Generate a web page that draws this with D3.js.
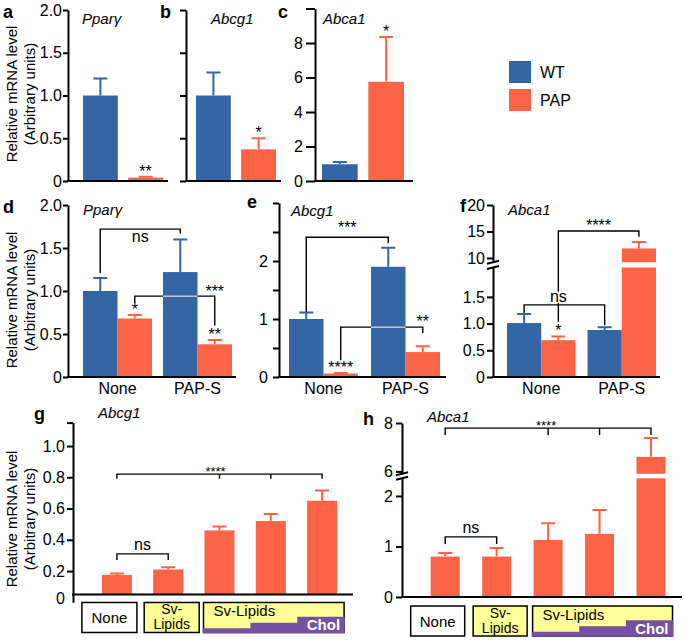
<!DOCTYPE html>
<html><head><meta charset="utf-8">
<script src="https://cdn.jsdelivr.net/npm/d3@7"></script>
<style>body{margin:0;background:#fff}svg{display:block}</style>
</head><body>
<script>
// ---------------- DATA ----------------
const genotypes = ["WT", "PAP"];
const pparA = [1.00, 0.04];
const pparAErr = [0.20, 0.01];
const abcg1B = [1.00, 0.37];
const abcg1BErr = [0.27, 0.13];
const abca1C = [0.97, 5.75];
const abca1CErr = [0.13, 2.60];

const conditions = ["None", "PAP-S"];
const pparD_WT = [1.00, 1.22];
const pparD_WTErr = [0.15, 0.38];
const pparD_PAP = [0.68, 0.38];
const pparD_PAPErr = [0.04, 0.05];
const abcg1E_WT = [1.00, 1.90];
const abcg1E_WTErr = [0.11, 0.33];
const abcg1E_PAP = [0.06, 0.43];
const abcg1E_PAPErr = [0.01, 0.10];
const abca1F_WT = [1.01, 0.88];
const abca1F_WTErr = [0.17, 0.05];
const abca1F_PAP = [0.69, 11.8];
const abca1F_PAPErr = [0.07, 1.2];

const treatments = ["None", "Sv-Lipids", "Sv-Lipids+Chol 1", "Sv-Lipids+Chol 2", "Sv-Lipids+Chol 3"];
const abcg1G = [0.175, 0.21, 0.46, 0.52, 0.65];
const abcg1GErr = [0.01, 0.015, 0.025, 0.045, 0.065];
const abca1H = [0.80, 0.80, 1.13, 1.25, 6.60];
const abca1HErr = [0.07, 0.17, 0.33, 0.47, 0.78];

const ticks2 = [0, 0.5, 1, 1.5, 2];
const ticks2Labels = ["0", "0.5", "1.0", "1.5", "2.0"];
const ticksC = [0, 2, 4, 6, 8, 10];
const ticksCLabels = ["0", "2", "4", "6", "8", ""];
const ticksE = [0, 0.5, 1, 1.5, 2, 2.5, 3];
const ticksELabels = ["0", "", "1", "", "2", "", ""];
const ticksFHi = [10, 15, 20];
const ticksFHiLabels = ["10", "15", "20"];
const ticksFLo = [0, 0.5, 1, 1.5];
const ticksFLoLabels = ["0", "0.5", "1.0", "1.5"];
const ticksG = [0.2, 0.4, 0.6, 0.8, 1.0, 1.15];
const ticksGLabels = ["0.2", "0.4", "0.6", "0.8", "1.0", ""];
const ticksHHi = [6, 8];
const ticksHHiLabels = ["6", "8"];
const ticksHLo = [0, 1, 2];
const ticksHLoLabels = ["0", "1", "2"];

// ---------------- STYLE ----------------
const FONT = "'Liberation Sans', Arial, Helvetica, sans-serif";
const BLUE = "#3465A4", RED = "#FD6446", YELLOW = "#FFFF99", PURPLE = "#7650A2";
const color = d3.scaleOrdinal().domain(genotypes).range([BLUE, RED]);

const svg = d3.select("body").append("svg").attr("width", 685).attr("height", 640)
  .style("font-family", FONT);
const defs = svg.append("defs");

function panel(id) {
  const g = svg.append("g");
  return { id, clip: defs.append("clipPath").attr("id", id),
    bars: g.append("g"), errs: g.append("g"), ann: g.append("g") };
}
function addRect(p, x, y0, y1, w, fill) {
  const y = Math.min(y0, y1), h = Math.abs(y1 - y0);
  p.bars.append("rect").attr("x", x).attr("y", y).attr("width", w).attr("height", h).attr("fill", fill);
  p.clip.append("rect").attr("x", x).attr("y", y).attr("width", w).attr("height", h);
}
function series(p, xOf, bw, values, errs, fillOf, lo, hi, base) {
  values.forEach((v, i) => {
    const x = xOf(i), cx = x + bw / 2, fill = fillOf(i);
    const loMax = lo.domain()[1];
    let yTop;
    if (hi && v > loMax) {
      addRect(p, x, base, lo(loMax), bw, fill);
      addRect(p, x, hi(hi.domain()[0]), hi(v), bw, fill);
      yTop = hi(v);
    } else {
      addRect(p, x, base, lo(v), bw, fill);
      yTop = lo(v);
    }
    const t = v + errs[i];
    const yCap = (hi && t > loMax) ? hi(t) : lo(t);
    p.errs.append("path").attr("d", `M${cx},${yTop}V${yCap}M${cx - 7},${yCap}H${cx + 7}`)
      .attr("stroke", fill).attr("stroke-width", 2).attr("fill", "none");
  });
}
function yAxis(x, scale, ticks, labels, tickLen = 6, pad = 3) {
  const a = svg.append("g").attr("transform", `translate(${x},0)`)
    .call(d3.axisLeft(scale).tickValues(ticks).tickFormat((d, i) => labels[i])
      .tickSize(tickLen).tickSizeOuter(0).tickPadding(pad));
  a.attr("font-family", null).attr("font-size", null);
  a.select(".domain").attr("stroke", "#000").attr("stroke-width", 2);
  a.selectAll(".tick line").attr("stroke", "#000").attr("stroke-width", 2);
  a.selectAll(".tick text").attr("fill", "#000").attr("font-size", 16);
  return a;
}
function xLine(x0, x1, y) {
  svg.append("line").attr("x1", x0).attr("x2", x1).attr("y1", y).attr("y2", y)
    .attr("stroke", "#000").attr("stroke-width", 2);
}
function breakMark(x, y) {
  svg.append("line").attr("x1", x - 6).attr("x2", x + 6).attr("y1", y + 1.5).attr("y2", y - 1.5)
    .attr("stroke", "#000").attr("stroke-width", 2);
}
function bracketPath(p, d) {
  p.ann.append("path").attr("d", d).attr("stroke", "#000").attr("stroke-width", 1.4).attr("fill", "none");
  p.ann.append("path").attr("d", d).attr("stroke", "#fff").attr("stroke-width", 1.4).attr("fill", "none")
    .attr("clip-path", `url(#${p.id})`);
}
function bracket(p, x1, x2, yLine, yEnd1, yEnd2) {
  bracketPath(p, `M${x1},${yEnd1}V${yLine}H${x2}V${yEnd2}`);
}
function label(g, x, y, s, o = {}) {
  const t = g.append("text").attr("x", x).attr("y", y).text(s)
    .attr("font-size", o.size || 16).attr("text-anchor", o.anchor || "middle").attr("fill", o.fill || "#000");
  if (o.italic) t.attr("font-style", "italic");
  if (o.bold) t.attr("font-weight", "bold");
  return t;
}
function yTitle(cx, cy) {
  const g = svg.append("g").attr("transform", `translate(${cx},${cy}) rotate(-90)`);
  label(g, 0, 0, "Relative mRNA level", { size: 15 });
  label(g, 0, 18, "(Arbitrary units)", { size: 15 });
}

// ---------------- PANEL a ----------------
const pA = panel("clipA");
const xA = d3.scaleBand().domain(genotypes).range([83, 163]).paddingInner(0.23);
const yA = d3.scaleLinear().domain([0, 2]).range([181, 10]);
series(pA, i => xA(genotypes[i]), xA.bandwidth(), pparA, pparAErr, i => color(genotypes[i]), yA, null, yA(0));
yAxis(68, yA, ticks2, ticks2Labels, 5, 1);
xLine(67, 168, yA(0));
label(pA.ann, xA("PAP") + xA.bandwidth() / 2, yA(pparA[1] + pparAErr[1]), "**");
label(svg, 3, 18, "a", { anchor: "start", bold: true, size: 18 });
label(svg, 82, 24, "Pparγ", { anchor: "start", italic: true, size: 15 });
yTitle(17, 94);

// ---------------- PANEL b ----------------
const pB = panel("clipB");
const xB = d3.scaleBand().domain(genotypes).range([196, 276]).paddingInner(0.23);
const yB = d3.scaleLinear().domain([0, 2]).range([181, 10]);
series(pB, i => xB(genotypes[i]), xB.bandwidth(), abcg1B, abcg1BErr, i => color(genotypes[i]), yB, null, yB(0));
yAxis(186, yB, ticks2, ticks2.map(() => ""));
xLine(185, 281, yB(0));
label(pB.ann, xB("PAP") + xB.bandwidth() / 2, yB(abcg1B[1] + abcg1BErr[1]), "*");
label(svg, 160, 18, "b", { anchor: "start", bold: true, size: 18 });
label(svg, 211, 24, "Abcg1", { anchor: "start", italic: true, size: 15 });

// ---------------- PANEL c ----------------
const pC = panel("clipC");
const xC = d3.scaleBand().domain(genotypes).range([322, 404]).paddingInner(0.23);
const yC = d3.scaleLinear().domain([0, 10]).range([181, 8.5]);
series(pC, i => xC(genotypes[i]), xC.bandwidth(), abca1C, abca1CErr, i => color(genotypes[i]), yC, null, yC(0));
yAxis(315, yC, ticksC, ticksCLabels, 9, 3);
xLine(314, 413, yC(0));
label(pC.ann, xC("PAP") + xC.bandwidth() / 2, yC(abca1C[1] + abca1CErr[1]), "*");
label(svg, 278, 18, "c", { anchor: "start", bold: true, size: 18 });
label(svg, 323, 24, "Abca1", { anchor: "start", italic: true, size: 15 });

// ---------------- LEGEND ----------------
genotypes.forEach((gt, i) => {
  svg.append("rect").attr("x", 509).attr("y", 61 + i * 28).attr("width", 22).attr("height", 22).attr("fill", color(gt));
  label(svg, 540, 78 + i * 28, gt, { anchor: "start", size: 16 });
});

// ---------------- PANEL d ----------------
const pD = panel("clipD");
const xD = d3.scaleBand().domain(conditions).range([83, 232]).paddingInner(0.1375);
const xDi = d3.scaleBand().domain(genotypes).range([0, xD.bandwidth()]);
const yD = d3.scaleLinear().domain([0, 2]).range([377, 205]);
series(pD, i => xD(conditions[i]) + xDi("WT"), xDi.bandwidth(), pparD_WT, pparD_WTErr, () => BLUE, yD, null, yD(0));
series(pD, i => xD(conditions[i]) + xDi("PAP"), xDi.bandwidth(), pparD_PAP, pparD_PAPErr, () => RED, yD, null, yD(0));
yAxis(68, yD, ticks2, ticks2Labels, 5, 1);
xLine(67, 236, yD(0));
const cD = (c, gt) => xD(c) + xDi(gt) + xDi.bandwidth() / 2;
bracket(pD, cD("None", "WT"), cD("PAP-S", "WT"), yD(1.72), yD(1.21), yD(1.67));
label(pD.ann, (cD("None", "WT") + cD("PAP-S", "WT")) / 2, yD(1.57), "ns");
bracket(pD, cD("None", "PAP"), cD("PAP-S", "PAP"), yD(0.94), yD(0.86), yD(0.60));
label(pD.ann, cD("PAP-S", "PAP"), yD(0.935), "***");
label(pD.ann, cD("None", "PAP"), yD(pparD_PAP[0] + pparD_PAPErr[0]), "*");
label(pD.ann, cD("PAP-S", "PAP"), yD(pparD_PAP[1] + pparD_PAPErr[1]), "**");
conditions.forEach(c => label(svg, xD(c) + xD.bandwidth() / 2, 394, c, { size: 16 }));
label(svg, 3, 213, "d", { anchor: "start", bold: true, size: 18 });
label(svg, 83, 215, "Pparγ", { anchor: "start", italic: true, size: 15 });
yTitle(17, 300);

// ---------------- PANEL e ----------------
const pE = panel("clipE");
const xE = d3.scaleBand().domain(conditions).range([289, 440]).paddingInner(0.159);
const xEi = d3.scaleBand().domain(genotypes).range([0, xE.bandwidth()]);
const yE = d3.scaleLinear().domain([0, 3]).range([377, 203]);
series(pE, i => xE(conditions[i]) + xEi("WT"), xEi.bandwidth(), abcg1E_WT, abcg1E_WTErr, () => BLUE, yE, null, yE(0));
series(pE, i => xE(conditions[i]) + xEi("PAP"), xEi.bandwidth(), abcg1E_PAP, abcg1E_PAPErr, () => RED, yE, null, yE(0));
yAxis(279, yE, ticksE, ticksELabels, 6, 5);
xLine(278, 446, yE(0));
const cE = (c, gt) => xE(c) + xEi(gt) + xEi.bandwidth() / 2;
bracket(pE, cE("None", "WT"), cE("PAP-S", "WT"), yE(2.41), yE(1.12), yE(2.31));
label(pE.ann, (cE("None", "WT") + cE("PAP-S", "WT")) / 2, yE(2.48), "***");
bracket(pE, cE("None", "PAP"), cE("PAP-S", "PAP"), yE(0.86), yE(0.29), yE(0.76));
label(pE.ann, cE("PAP-S", "PAP"), yE(0.86), "**");
label(pE.ann, cE("None", "PAP"), yE(abcg1E_PAP[0] + abcg1E_PAPErr[0]), "****");
conditions.forEach(c => label(svg, xE(c) + xE.bandwidth() / 2, 394, c, { size: 16 }));
label(svg, 247, 208, "e", { anchor: "start", bold: true, size: 18 });
label(svg, 291, 216, "Abcg1", { anchor: "start", italic: true, size: 15 });

// ---------------- PANEL f ----------------
const pF = panel("clipF");
const xF = d3.scaleBand().domain(conditions).range([507, 656]).paddingInner(0.15);
const xFi = d3.scaleBand().domain(genotypes).range([0, xF.bandwidth()]);
const yFlo = d3.scaleLinear().domain([0, 2.05]).range([377, 267.5]);
const yFhi = d3.scaleLinear().domain([9.2, 20]).range([262.2, 205]);
series(pF, i => xF(conditions[i]) + xFi("WT"), xFi.bandwidth(), abca1F_WT, abca1F_WTErr, () => BLUE, yFlo, yFhi, yFlo(0));
series(pF, i => xF(conditions[i]) + xFi("PAP"), xFi.bandwidth(), abca1F_PAP, abca1F_PAPErr, () => RED, yFlo, yFhi, yFlo(0));
yAxis(493, yFlo, ticksFLo, ticksFLoLabels, 6, 2);
yAxis(493, yFhi, ticksFHi, ticksFHiLabels, 6, 2);
breakMark(493, yFhi.range()[0]);
breakMark(493, yFlo.range()[1]);
xLine(492, 660, yFlo(0));
const cF = (c, gt) => xF(c) + xFi(gt) + xFi.bandwidth() / 2;
bracketPath(pF, `M${cF("None", "PAP")},${yFlo(1.03)}V${yFhi(15.1)}H${cF("PAP-S", "PAP")}V${yFhi(14.0)}`);
label(pF.ann, (cF("None", "PAP") + cF("PAP-S", "PAP")) / 2, yFhi(15.0), "****");
pF.ann.append("rect").attr("x", cF("None", "PAP") - 9).attr("y", yFlo(1.41) - 10).attr("width", 18).attr("height", 11).attr("fill", "#fff");
bracket(pF, cF("None", "WT"), cF("PAP-S", "WT"), yFlo(1.35), yFlo(1.2), yFlo(0.97));
label(pF.ann, cF("None", "PAP"), yFlo(1.41), "ns");
label(pF.ann, cF("None", "PAP"), yFlo(abca1F_PAP[0] + abca1F_PAPErr[0]), "*");
conditions.forEach(c => label(svg, xF(c) + xF.bandwidth() / 2, 394, c, { size: 16 }));
label(svg, 460, 212, "f", { anchor: "start", bold: true, size: 18 });
label(svg, 508, 215, "Abca1", { anchor: "start", italic: true, size: 15 });

// ---------------- treatment boxes ----------------
function treatmentBoxes(xS, top) {
  const bw = xS.bandwidth(), h = 30;
  const g = svg.append("g");
  const b1 = [xS(treatments[0]) - 20, xS(treatments[0]) + bw + 5];
  const b2 = [xS(treatments[1]) - 9, xS(treatments[1]) + bw + 16];
  const b3 = [xS(treatments[2]) - 1, xS(treatments[4]) + bw + 7];
  g.append("rect").attr("x", b1[0]).attr("y", top).attr("width", b1[1] - b1[0]).attr("height", h)
    .attr("fill", "#fff").attr("stroke", "#000").attr("stroke-width", 1.5);
  label(g, (b1[0] + b1[1]) / 2, top + 20.5, "None", { size: 15 });
  g.append("rect").attr("x", b2[0]).attr("y", top).attr("width", b2[1] - b2[0]).attr("height", h)
    .attr("fill", YELLOW).attr("stroke", "#000").attr("stroke-width", 1.5);
  label(g, (b2[0] + b2[1]) / 2, top + 11.5, "Sv-", { size: 14 });
  label(g, (b2[0] + b2[1]) / 2, top + 27, "Lipids", { size: 14 });
  g.append("rect").attr("x", b3[0]).attr("y", top).attr("width", b3[1] - b3[0]).attr("height", h)
    .attr("fill", YELLOW).attr("stroke", "#000").attr("stroke-width", 1.5);
  const w3 = (b3[1] - b3[0]) / 3, bot = top + h + 0.75;
  const steps = [5, 10.5, 16.5];
  let d = `M${b3[0] - 0.75},${bot}`;
  steps.forEach((s, i) => { d += `V${bot - s}H${b3[0] + w3 * (i + 1) + (i === 2 ? 0.75 : 0)}`; });
  d += `V${bot}Z`;
  g.append("path").attr("d", d).attr("fill", PURPLE);
  label(g, b3[0] + 10, top + 14, "Sv-Lipids", { anchor: "start", size: 15 });
  label(g, b3[1] - 4, top + h - 2, "Chol", { anchor: "end", size: 15, bold: true, fill: "#fff" });
}

// ---------------- PANEL g ----------------
const pG = panel("clipG");
const xG = d3.scaleBand().domain(treatments).range([101.9, 337.1]).paddingInner(0.415);
const yG = d3.scaleLinear().domain([0, 1.15]).range([602.3, 422.6]);
const gBase = yG(0.05);
series(pG, i => xG(treatments[i]), xG.bandwidth(), abcg1G, abcg1GErr, () => RED, yG, null, gBase);
yAxis(73, yG, ticksG, ticksGLabels, 6, 2);
label(svg, 65, yG(0) - 3, "0", { anchor: "end", size: 16 }).attr("dy", "0.32em");
xLine(72, 353, gBase);
const cG = i => xG(treatments[i]) + xG.bandwidth() / 2;
bracket(pG, cG(0), cG(1), yG(0.31), yG(0.27), yG(0.27));
label(pG.ann, (cG(0) + cG(1)) / 2, yG(0.335), "ns");
{
  const yl = yG(0.82), yb = yG(0.79);
  bracketPath(pG, `M${cG(0)},${yb}V${yl}H${cG(4)}V${yb}M${cG(2)},${yl}V${yb}M${cG(3)},${yl}V${yb}`);
  label(pG.ann, cG(2) - 4, yl + 2, "****", { size: 13 });
}
treatmentBoxes(xG, gBase + 8);
label(svg, 34, 420, "g", { anchor: "start", bold: true, size: 18 });
label(svg, 98, 418, "Abcg1", { anchor: "start", italic: true, size: 15 });
yTitle(17, 519);

// ---------------- PANEL h ----------------
const pH = panel("clipH");
const xH = d3.scaleBand().domain(treatments).range([430.7, 665.5]).paddingInner(0.4364);
const yHlo = d3.scaleLinear().domain([0, 2.35]).range([597, 478.3]);
const yHhi = d3.scaleLinear().domain([5.9, 8]).range([473.8, 423]);
series(pH, i => xH(treatments[i]), xH.bandwidth(), abca1H, abca1HErr, () => RED, yHlo, yHhi, yHlo(0));
yAxis(402, yHlo, ticksHLo, ticksHLoLabels, 6, 3);
yAxis(402, yHhi, ticksHHi, ticksHHiLabels, 6, 3);
breakMark(402, yHhi.range()[0]);
breakMark(402, yHlo.range()[1]);
xLine(401, 682, yHlo(0));
const cH = i => xH(treatments[i]) + xH.bandwidth() / 2;
bracket(pH, cH(0), cH(1), yHlo(1.19), yHlo(1.05), yHlo(1.05));
label(pH.ann, (cH(0) + cH(1)) / 2, yHlo(1.26), "ns");
{
  const yl = yHhi(7.79), yb = yHhi(7.5);
  bracketPath(pH, `M${cH(0)},${yb}V${yl}H${cH(4)}V${yb}M${cH(2)},${yl}V${yb}M${cH(3)},${yl}V${yb}`);
  label(pH.ann, cH(2) - 2, yl + 2, "****", { size: 13 });
}
treatmentBoxes(xH, yHlo(0) + 9);
label(svg, 363, 425, "h", { anchor: "start", bold: true, size: 18 });
label(svg, 427, 422, "Abca1", { anchor: "start", italic: true, size: 15 });
</script>
</body></html>
